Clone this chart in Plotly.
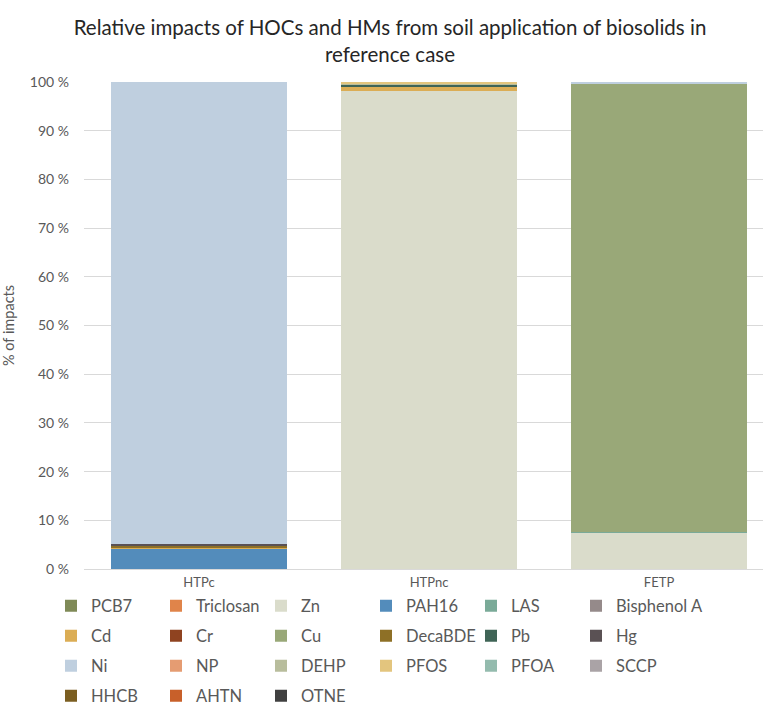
import plotly.graph_objects as go

# Impact categories on the x axis
categories = ["HTPc", "HTPnc", "FETP"]

# Substances, in stacking order (bottom to top) and legend order
substances = [
    "PCB7", "Triclosan", "Zn", "PAH16", "LAS", "Bisphenol A",
    "Cd", "Cr", "Cu", "DecaBDE", "Pb", "Hg",
    "Ni", "NP", "DEHP", "PFOS", "PFOA", "SCCP",
    "HHCB", "AHTN", "OTNE",
]

# Share of impacts (%) per substance for each category
htpc = [0, 0, 0, 4.15, 0, 0,
        0.35, 0, 0, 0.3, 0, 0.35,
        94.85, 0, 0, 0, 0, 0,
        0, 0, 0]
htpnc = [0, 0, 98.15, 0, 0, 0,
         0.8, 0, 0, 0, 0.45, 0.15,
         0, 0, 0.2, 0.25, 0, 0,
         0, 0, 0]
fetp = [0, 0, 7.4, 0, 0.15, 0,
        0, 0, 92.15, 0, 0, 0,
        0.3, 0, 0, 0, 0, 0,
        0, 0, 0]

colors = [
    "#7f8a57", "#e0844a", "#dadccb", "#538cbb", "#7aaa98", "#958a8a",
    "#dbad55", "#8f4320", "#99a878", "#8e7026", "#3f6456", "#5a5154",
    "#bfcfdf", "#e59c72", "#b8bd9c", "#e3c57e", "#94bbae", "#aaa3a6",
    "#7b5e21", "#c8602a", "#404040",
]

y_ticks = list(range(0, 101, 10))

FONT = "Lato"
GREY = "#595959"
W, H = 763, 728

# legend grid: 6 columns, rows of 6 entries
n_cols = 6
col_x = 51          # left edge of first legend entry (px)
col_step = 105      # column pitch (px)
row_y = [606, 636, 666, 696]

fig = go.Figure()
legends = {}
for i, name in enumerate(substances):
    r, c = divmod(i, n_cols)
    key = f"legend{i + 1}" if i else "legend"
    fig.add_trace(go.Bar(
        x=[0, 1, 2],
        y=[htpc[i], htpnc[i], fetp[i]],
        name=name,
        showlegend=True,
        marker=dict(color=colors[i], line=dict(width=0)),
        width=0.765,
        legend=key,
    ))
    legends[key] = dict(
        orientation="h",
        xref="container", yref="container",
        x=(col_x + c * col_step) / W, xanchor="left",
        y=1 - row_y[r] / H, yanchor="middle",
        font=dict(family=FONT, size=16.5, color=GREY),
        bgcolor="rgba(0,0,0,0)",
    )

fig.update_layout(
    width=W, height=H,
    showlegend=True,
    barmode="stack",
    bargap=0,
    plot_bgcolor="white",
    paper_bgcolor="white",
    margin=dict(l=84, r=0, t=81.5, b=158.5, autoexpand=False),
    title=dict(
        text="Relative impacts of HOCs and HMs from soil application of biosolids in<br>reference case",
        x=390 / W, xanchor="center", xref="container",
        y=1 - 35 / H, yanchor="middle", yref="container",
        font=dict(family=FONT, size=20.5, color="#262626"),
    ),
    xaxis=dict(
        tickmode="array", tickvals=[0, 1, 2], ticktext=categories,
        range=[-0.5, 2.452],
        showgrid=False, zeroline=False, showline=False,
        tickfont=dict(family=FONT, size=13, color=GREY),
        ticks="",
        ticklabelstandoff=4,
        automargin=False,
    ),
    yaxis=dict(
        range=[0, 100],
        tickmode="array",
        tickvals=y_ticks,
        ticktext=[f"{v} %" for v in y_ticks],
        showgrid=True, gridcolor="#d9d9d9", gridwidth=1,
        zeroline=True, zerolinecolor="#d9d9d9", zerolinewidth=1,
        tickfont=dict(family=FONT, size=14, color=GREY),
        ticklabelstandoff=14,
        automargin=False,
        title=dict(text="% of impacts", font=dict(family=FONT, size=14.5, color=GREY), standoff=12),
    ),
    **legends,
)

fig.write_html("out.html")
